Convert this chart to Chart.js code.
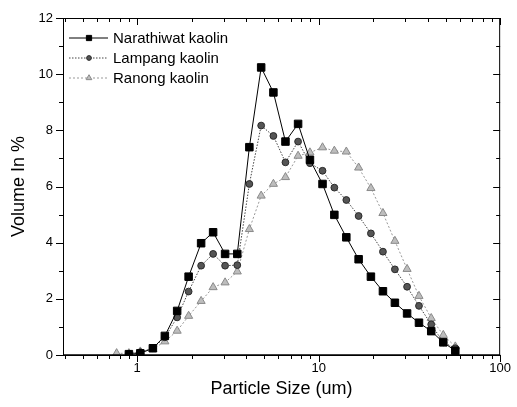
<!DOCTYPE html>
<html>
<head>
<meta charset="utf-8">
<script src="https://cdn.jsdelivr.net/npm/chart.js@4/dist/chart.umd.min.js"></script>
<style>
  html, body { margin: 0; padding: 0; background: #fff; }
  #wrap { width: 517px; height: 407px; }
</style>
</head>
<body>
<div id="wrap"><canvas id="psd"></canvas></div>
<script>
// particle size bins (um) and volume fractions (%)
var sizes = [0.77, 0.90, 1.04, 1.22, 1.42, 1.66, 1.92, 2.25, 2.62, 3.05, 3.56, 4.15, 4.82, 5.63,
             6.56, 7.70, 8.95, 10.5, 12.2, 14.2, 16.6, 19.4, 22.6, 26.3, 30.7, 35.7, 41.7, 48.6, 56.6];
var narathiwat = [null, 0.03, 0.06, 0.24, 0.68, 1.57, 2.79, 3.98, 4.37, 3.60, 3.60, 7.40, 10.24, 9.35,
                  7.60, 8.23, 6.95, 6.09, 4.99, 4.19, 3.41, 2.79, 2.27, 1.86, 1.48, 1.15, 0.85, 0.45, 0.15];
var lampang = [null, 0.04, 0.10, 0.24, 0.63, 1.34, 2.26, 3.18, 3.60, 3.18, 3.20, 6.09, 8.17, 7.80,
               6.86, 7.60, 6.83, 6.56, 5.96, 5.52, 4.95, 4.33, 3.68, 3.05, 2.43, 1.75, 1.09, 0.45, 0.24];
var ranong = [0.06, 0.06, 0.12, 0.21, 0.48, 0.86, 1.39, 1.92, 2.41, 2.58, 2.97, 4.48, 5.67, 6.09,
              6.33, 7.09, 7.21, 7.39, 7.27, 7.24, 6.67, 5.94, 5.05, 4.06, 3.06, 2.10, 1.31, 0.71, 0.30];
var seriesNames = ["Narathiwat kaolin", "Lampang kaolin", "Ranong kaolin"];
var xMajor = [1, 10, 100];
var yTicks = [0, 2, 4, 6, 8, 10, 12];

function pairs(vals) {
    var out = [];
    for (var i = 0; i < sizes.length; i++) {
        out.push({x: sizes[i], y: vals[i]});
    }
    return out;
}

var fontFam = "'Liberation Sans', Arial, sans-serif";

// frame, ticks on all four sides (outward bottom/left, inward top/right)
var framePlugin = {
    id: "frame",
    afterDraw: function (chart) {
        var ctx = chart.ctx;
        var a = chart.chartArea;
        var xs = chart.scales.x, ys = chart.scales.y;
        ctx.save();
        ctx.strokeStyle = "#000";
        ctx.lineWidth = 1;
        ctx.strokeRect(a.left + 0.5, a.top + 0.5, a.right - a.left - 1, a.bottom - a.top);
        ctx.lineWidth = 1.5;
        ctx.beginPath();
        ctx.moveTo(a.left, a.bottom);
        ctx.lineTo(a.right, a.bottom);
        ctx.stroke();
        ctx.lineWidth = 1;
        ctx.beginPath();
        // x ticks
        var decades = [0.1, 1, 10];
        for (var d = 0; d < decades.length; d++) {
            for (var k = 1; k <= 10; k++) {
                var v = decades[d] * k;
                if (v < xs.min || v > xs.max) continue;
                var px = Math.round(xs.getPixelForValue(v)) + 0.5;
                var len = (k === 1 || k === 10) ? 7 : 4;
                ctx.moveTo(px, a.bottom);
                ctx.lineTo(px, a.bottom + len);
                ctx.moveTo(px, a.top);
                ctx.lineTo(px, a.top + len);
            }
        }
        // y ticks
        for (var yv = 0; yv <= 12; yv++) {
            var py = Math.round(ys.getPixelForValue(yv)) + 0.5;
            var l = (yv % 2 === 0) ? 7 : 4;
            ctx.moveTo(a.left, py);
            ctx.lineTo(a.left - l, py);
            ctx.moveTo(a.right, py);
            ctx.lineTo(a.right - l, py);
        }
        ctx.stroke();
        ctx.restore();
    }
};

// legend box in the upper left of the plot, smaller symbols than the data
var legendPlugin = {
    id: "innerLegend",
    afterDraw: function (chart) {
        var ctx = chart.ctx;
        var rows = [38, 58, 78];
        ctx.save();
        ctx.font = "15px " + fontFam;
        ctx.textBaseline = "middle";
        ctx.fillStyle = "#000";
        chart.data.datasets.forEach(function (ds, i) {
            var y = rows[i];
            ctx.save();
            ctx.strokeStyle = ds.borderColor;
            ctx.lineWidth = ds.borderWidth;
            ctx.setLineDash(ds.borderDash || []);
            ctx.beginPath();
            ctx.moveTo(69, y);
            ctx.lineTo(108, y);
            ctx.stroke();
            ctx.restore();
            ctx.save();
            ctx.fillStyle = ds.pointBackgroundColor;
            ctx.strokeStyle = ds.pointBorderColor;
            ctx.lineWidth = ds.pointBorderWidth;
            Chart.helpers.drawPoint(ctx, {pointStyle: ds.pointStyle, radius: ds.pointRadius * 0.7, rotation: 0, borderWidth: ds.pointBorderWidth}, 89, y);
            ctx.restore();
            ctx.fillText(seriesNames[i], 113, y + 1);
        });
        ctx.restore();
    }
};

new Chart(document.getElementById("psd"), {
    type: "line",
    data: {
        datasets: [{
            label: seriesNames[0],
            data: pairs(narathiwat),
            borderColor: "#000",
            borderWidth: 1,
            pointStyle: "rect",
            pointRadius: 5.3,
            pointBackgroundColor: "#000",
            pointBorderColor: "#000",
            pointBorderWidth: 1,
            tension: 0
        }, {
            label: seriesNames[1],
            data: pairs(lampang),
            borderColor: "#444",
            borderWidth: 1,
            borderDash: [1.5, 1.5],
            pointStyle: "circle",
            pointRadius: 3.4,
            pointBackgroundColor: "#555",
            pointBorderColor: "#2a2a2a",
            pointBorderWidth: 1,
            tension: 0
        }, {
            label: seriesNames[2],
            data: pairs(ranong),
            borderColor: "#999",
            borderWidth: 1,
            borderDash: [2, 2],
            pointStyle: "triangle",
            pointRadius: 4.7,
            pointBackgroundColor: "#bdbdbd",
            pointBorderColor: "#8a8a8a",
            pointBorderWidth: 1,
            tension: 0
        }]
    },
    options: {
        responsive: true,
        maintainAspectRatio: false,
        animation: false,
        layout: {padding: {top: 18, right: 11, left: 0, bottom: 0}},
        plugins: {legend: {display: false}, tooltip: {enabled: false}},
        scales: {
            x: {
                type: "logarithmic",
                min: 0.39,
                max: 100,
                afterBuildTicks: function (s) {
                    s.ticks = xMajor.map(function (v) { return {value: v}; });
                },
                afterFit: function (s) { s.height = 52; },
                grid: {display: false, drawTicks: false},
                border: {display: false},
                ticks: {
                    color: "#000",
                    font: {family: fontFam, size: 13},
                    padding: 6,
                    maxRotation: 0,
                    autoSkip: false,
                    callback: function (v) { return String(v); }
                },
                title: {
                    display: true,
                    text: "Particle Size (um)",
                    color: "#000",
                    font: {family: fontFam, size: 18},
                    padding: {top: 0, bottom: 7}
                }
            },
            y: {
                min: 0,
                max: 12,
                afterBuildTicks: function (s) {
                    s.ticks = yTicks.map(function (v) { return {value: v}; });
                },
                afterFit: function (s) { s.width = 63; },
                grid: {display: false, drawTicks: false},
                border: {display: false},
                ticks: {
                    color: "#000",
                    font: {family: fontFam, size: 13},
                    padding: 10
                },
                title: {
                    display: true,
                    text: "Volume In %",
                    color: "#000",
                    font: {family: fontFam, size: 18},
                    padding: {top: 8, bottom: 0}
                }
            }
        }
    },
    plugins: [framePlugin, legendPlugin]
});
</script>
</body>
</html>
